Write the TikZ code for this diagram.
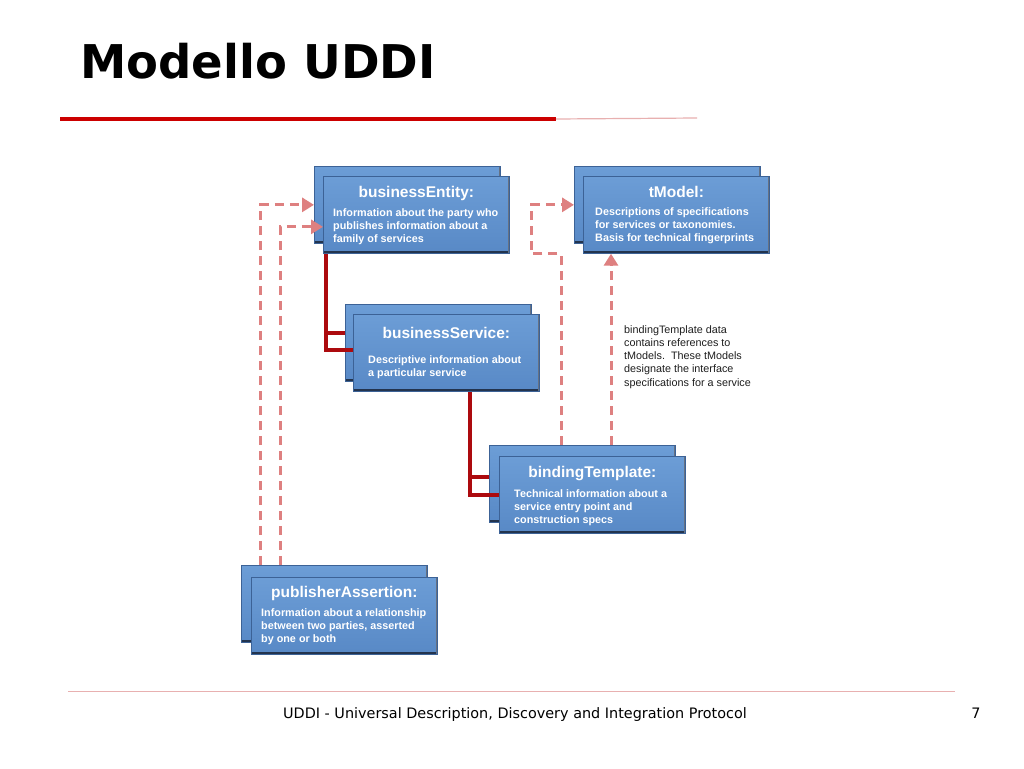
\documentclass[tikz,border=0pt]{standalone}
\usepackage{fontspec}
\setmainfont{Liberation Sans}
\newfontfamily\titlefont{DejaVu Sans}
\newfontfamily\footfont{DejaVu Sans}
\usetikzlibrary{arrows.meta}
\pgfdeclarelayer{front}
\pgfsetlayers{main,front}
\definecolor{boxtop}{RGB}{108,157,214}
\definecolor{boxbot}{RGB}{88,137,198}
\definecolor{boxline}{RGB}{60,98,150}
\definecolor{boxdark}{RGB}{35,52,78}
\definecolor{boxlight}{RGB}{150,190,232}
\definecolor{connred}{RGB}{172,10,14}
\definecolor{dashpink}{RGB}{222,128,128}
\definecolor{titlered}{RGB}{204,0,0}
\definecolor{paleline}{RGB}{232,176,176}
\definecolor{notegray}{RGB}{30,30,30}
\tikzset{
  boxshape/.style={rectangle, anchor=north west, inner sep=0pt,
    minimum width=186pt, minimum height=77pt,
    top color=boxtop, bottom color=boxbot, draw=boxline, line width=0.7pt,
    path picture={
      \draw[boxdark,line width=4pt] (path picture bounding box.south west) -- (path picture bounding box.south east);
      \draw[boxdark!70,line width=2pt] (path picture bounding box.south east) -- (path picture bounding box.north east);
      \draw[boxlight,line width=2pt] (path picture bounding box.north west) -- (path picture bounding box.north east);
    }},
  boxtitle/.style={anchor=base, inner sep=0pt, text=white, font=\fontsize{15.5}{18}\selectfont\bfseries},
  boxbody/.style={anchor=base west, inner sep=0pt, text=white, align=left, font=\fontsize{10.8}{13.3}\selectfont\bfseries},
  rline/.style={connred, line width=3.5pt},
  dashline/.style={dashpink, line width=3pt, dash pattern=on 9pt off 6pt},
  tip/.style={-{Triangle[length=12pt,width=14pt]}},
}
\begin{document}
\begin{tikzpicture}[x=1pt,y=-1pt]
\useasboundingbox[fill=white] (0,0) rectangle (1024,768);
% header
\node[anchor=base west, inner sep=0pt, font=\titlefont\fontsize{46.5}{50}\selectfont\bfseries] (title) at (80,78) {Modello UDDI};
\coordinate (hl0) at (60,119);
\coordinate (hl1) at (556,119);
\coordinate (hl2) at (697,118);
\draw[titlered, line width=4pt] (hl0) -- (hl1);
\draw[paleline, line width=1.2pt] (hl1) -- (hl2);
% footer
\coordinate (fl0) at (68,691);
\coordinate (fl1) at (955,691);
\draw[paleline, line width=1pt] (fl0) -- (fl1);
\node[anchor=base, inner sep=0pt, font=\footfont\fontsize{14.4}{16}\selectfont] (foot) at (515,718) {UDDI - Universal Description, Discovery and Integration Protocol};
\node[anchor=base, inner sep=0pt, font=\footfont\fontsize{14.4}{16}\selectfont] (page) at (976,718) {7};
% back boxes
\node[boxshape] (beB) at (314,166) {};
\node[boxshape] (bsB) at (345,304) {};
\node[boxshape] (tmB) at (574,166) {};
\node[boxshape] (btB) at (489,445) {};
\node[boxshape] (paB) at (241,565) {};
% front boxes (on front layer)
\begin{pgfonlayer}{front}
\node[boxshape] (beF) at (323,176) {};
\node[boxshape] (bsF) at (353,314) {};
\node[boxshape] (tmF) at (583,176) {};
\node[boxshape] (btF) at (499,456) {};
\node[boxshape] (paF) at (251,577) {};
\end{pgfonlayer}
% dashed references
\draw[dashline, tip] ([xshift=19pt]paB.north west) |- (beB.west);
\draw[dashline, tip] ([xshift=39pt]paB.north west) |- ([yshift=-12pt]beF.west);
\draw[dashline, tip] ([xshift=72pt]btB.north west) |- ([xshift=-43pt]tmB.west |- tmF.south) |- (tmB.west);
\draw[dashline, tip] ([xshift=122pt]btB.north west) -- ([xshift=122pt]btB.north west |- tmF.south);
% containment connectors
\draw[rline] ([xshift=3pt]beF.south west) |- ([yshift=3pt]bsF.west);
\draw[rline] ([yshift=10pt]bsB.west) -- ++(-19,0);
\draw[rline] ([xshift=117pt]bsF.south west) |- (btF.west);
\draw[rline] ([yshift=7pt]btB.west) -- ++(-19,0);
% texts (base anchor = baseline of last line)
\begin{pgfonlayer}{front}
\node[boxtitle] (beT) at ([yshift=-21pt]beF.north) {businessEntity:};
\node[boxbody] (beD) at ([xshift=10pt,yshift=-66.6pt]beF.north west) {Information about the party who\\publishes information about a\\family of services};
\node[boxtitle] (bsT) at ([yshift=-24pt]bsF.north) {businessService:};
\node[boxbody] (bsD) at ([xshift=15pt,yshift=-62.3pt]bsF.north west) {Descriptive information about\\a particular service};
\node[boxtitle] (tmT) at ([yshift=-21pt]tmF.north) {tModel:};
\node[boxbody] (tmD) at ([xshift=12pt,yshift=-65.6pt]tmF.north west) {Descriptions of specifications\\for services or taxonomies.\\Basis for technical fingerprints};
\node[boxtitle] (btT) at ([yshift=-21pt]btF.north) {bindingTemplate:};
\node[boxbody] (btD) at ([xshift=15pt,yshift=-67.6pt]btF.north west) {Technical information about a\\service entry point and\\construction specs};
\node[boxtitle] (paT) at ([yshift=-20pt]paF.north) {publisherAssertion:};
\node[boxbody] (paD) at ([xshift=10pt,yshift=-65.6pt]paF.north west) {Information about a relationship\\between two parties, asserted\\by one or both};
\end{pgfonlayer}
% note
\node[anchor=base west, inner sep=0pt, align=left, text=notegray, font=\fontsize{10.8}{13.3}\selectfont] (note) at (624,386.2) {bindingTemplate data\\contains references to\\tModels.\ \ These tModels\\designate the interface\\specifications for a service};
\end{tikzpicture}
\end{document}
